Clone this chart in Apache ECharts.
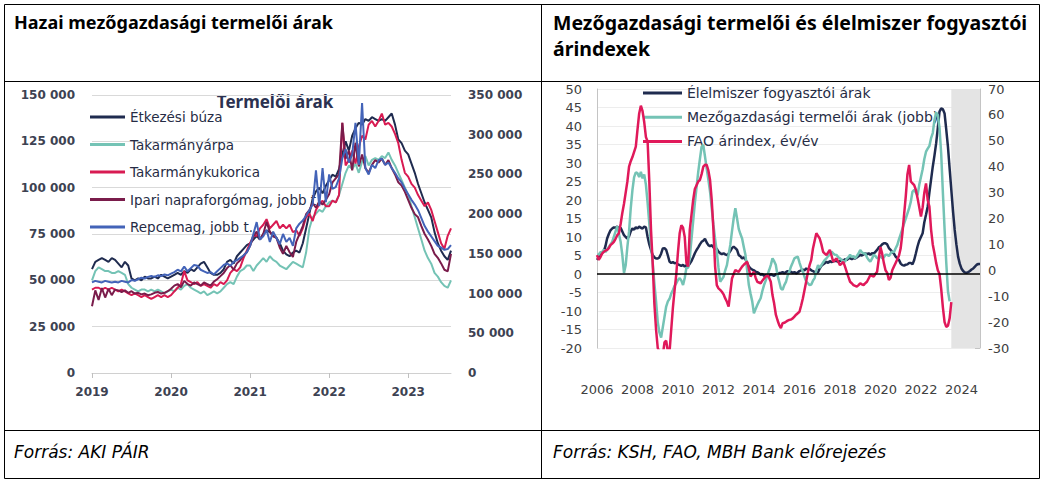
<!DOCTYPE html>
<html><head><meta charset="utf-8">
<script src="https://cdn.jsdelivr.net/npm/echarts@6/dist/echarts.min.js"></script>
<style>html,body{margin:0;padding:0;background:#fff}#c{width:1045px;height:484px}</style>
</head><body><div id="c"></div>
<script>
// ---------- LEFT CHART DATA (semi-monthly, thousand HUF/t) ----------
const leftYears = ['2019', '2020', '2021', '2022', '2023'];
const leftCount = 110; // Jan 2019 .. Jul 2023, two points per month
// Étkezési búza (left axis)
const wheat = [
  56,60,61,62,61,60,62,61,59,57,60,58,51,50,51,50,52,51,51,52,51,53,52,51,
  52,53,54,53,55,54,56,55,57,59,60,57,54,53,53,54,56,60,61,59,63,65,67,69,
  70,72,74,72,75,77,76,74,73,70,66,64,63,65,66,65,70,78,86,94,98,100,97,101,
  104,107,106,110,118,125,120,128,132,135,134,137,136,138,137,136,137,136,138,140,134,126,124,120,
  118,113,108,102,97,92,88,84,76,70,66,63,61,66
];
// Takarmányárpa (left axis)
const barley = [
  50,55,57,56,55,55,54,54,55,54,53,48,46,45,44,45,45,44,45,44,45,44,43,44,
  45,44,46,45,47,48,46,45,44,43,44,42,43,44,43,44,46,48,49,48,52,55,56,58,
  58,55,58,60,62,60,63,61,60,58,57,56,58,60,59,58,57,65,78,84,86,88,87,90,
  92,93,92,96,102,108,112,110,113,108,114,117,112,115,116,115,117,116,119,115,112,108,104,100,
  96,90,84,78,72,66,62,59,54,52,49,47,46,50
];
// Takarmánykukorica (left axis)
const maize = [
  45,46,46,45,46,45,46,45,44,45,44,43,42,43,42,41,42,41,40,41,42,41,42,41,
  42,44,46,48,55,50,49,48,49,47,48,47,46,48,47,49,48,50,54,56,55,57,62,66,
  70,74,74,78,80,83,78,80,82,78,80,78,80,76,77,74,78,84,86,82,88,91,93,90,
  90,93,92,96,135,112,115,120,113,122,128,126,134,136,133,136,140,134,135,133,129,124,115,108,
  106,102,100,96,93,90,92,88,82,76,70,67,74,78
];
// Ipari napraforgómag (right axis)
const sunflower = [
  84,104,92,107,95,106,98,105,104,102,104,101,103,100,101,99,100,98,99,101,102,100,101,103,
  106,110,112,108,116,112,110,114,112,110,114,112,110,115,118,122,126,132,136,130,138,142,148,152,
  160,172,178,168,175,190,178,172,170,158,150,160,152,146,165,175,185,200,205,214,208,216,212,218,
  225,240,245,250,315,270,280,255,290,260,275,258,252,262,268,265,270,262,268,258,250,240,236,228,
  218,208,200,196,185,175,168,160,150,145,138,130,128,150
];
// Repcemag (right axis)
const rapeseed = [
  114,116,115,114,116,115,114,115,114,116,115,114,117,116,118,120,119,121,122,121,123,122,124,123,
  125,127,130,128,134,128,132,136,135,130,128,126,127,124,128,132,136,138,135,140,142,145,148,152,
  160,175,190,168,172,180,165,178,170,162,175,165,170,160,182,188,192,198,205,212,255,210,258,215,
  250,232,234,245,270,282,265,275,315,262,340,258,250,262,258,268,270,262,265,258,252,245,240,232,
  225,218,212,205,195,185,178,172,166,160,158,155,156,161
];
const leftNames = ['Étkezési búza', 'Takarmányárpa', 'Takarmánykukorica', 'Ipari napraforgómag, jobb t.', 'Repcemag, jobb t.'];

// ---------- RIGHT CHART DATA (monthly, %) ----------
const rightFirstYear = 2006, rightLastYear = 2024;
// Élelmiszer fogyasztói árak (left axis)
const foodCPI = [
  3.8,4.5,5.2,5.8,6.1,7.5,9.6,10.8,11.8,12.3,12.6,12.5,
  12.8,12.4,12.5,11.5,10.5,10.0,9.6,10.2,11.5,12.3,12.0,12.6,
  12.3,12.8,12.5,12.3,12.8,12.6,10.0,8.0,6.5,5.1,4.5,4.2,
  4.2,4.5,5.5,6.9,7.0,6.5,5.0,3.3,3.0,3.2,2.9,3.0,
  2.6,2.4,2.2,2.5,2.0,2.4,2.2,2.8,3.5,4.5,5.6,6.5,
  7.2,8.0,8.7,9.0,9.5,8.5,7.8,7.5,7.8,7.2,6.9,6.8,
  6.0,5.6,5.4,5.6,5.3,5.1,5.5,6.2,7.0,7.4,7.0,6.5,
  5.1,4.8,4.2,4.5,4.0,3.0,2.0,1.5,1.2,1.0,0.6,0.5,
  0.2,-0.2,0.0,-0.5,-0.3,-0.7,-0.5,0.0,-0.3,-0.5,0.0,-0.2,
  0.3,0.3,0.5,0.2,0.5,0.8,0.5,0.6,0.3,0.5,0.2,0.4,
  0.8,1.0,1.2,1.0,1.5,1.2,1.4,1.0,0.8,0.5,0.3,0.5,
  1.5,2.2,2.6,2.9,3.3,3.0,3.5,3.2,3.4,3.6,3.5,3.3,
  3.5,3.8,3.6,4.0,3.8,4.2,4.3,4.0,4.3,4.2,4.5,4.8,
  5.2,5.0,5.3,5.6,5.4,5.6,5.2,5.6,5.5,6.0,6.5,7.2,
  7.5,8.0,8.3,8.3,8.0,7.0,6.5,6.0,5.5,4.7,4.2,3.8,
  2.8,2.4,2.3,2.5,2.6,3.0,3.0,2.6,3.8,5.6,7.5,9.0,
  10.0,11.0,14.0,16.0,18.2,22.0,25.5,29.0,32.0,35.3,39.5,43.9,
  44.8,44.5,43.4,39.0,34.4,28.5,22.7,17.0,11.9,8.0,4.7,2.8,
  1.5,0.8,0.4,0.3,0.5,0.8,1.2,1.5,2.0,2.5,2.7,2.7
];
// Mezőgazdasági termelői árak (right axis)
const agriPPI = [
  6,6,7,7,8,7,8,9,10,11,13,15,
  17,14,11,6,-1,2,9,15,24,31,36,37.8,
  37.5,36,38,35.5,37,33,26,18,10,3,-5,-12,
  -20,-24,-26,-22,-18,-14,-12,-11,-9,-7.6,-6,-5,
  -3.7,-3,-4,-5.7,-3,1,1,5,12,19,26,32,
  38,43,47.7,48.4,44,39.3,35,30.4,24,17.5,12,7.2,
  1,-4.4,-3.5,-2.5,0,2,6,9.8,15,20,24,20,
  16,14,12.3,9,5.9,0,-5.7,-9,-12,-16.6,-15,-13.4,
  -12,-10.8,-8,-5.7,-4,-1.8,0,2,4.6,3.5,2,-2,
  -4.4,-7,-7.5,-5.7,-4.5,-2,-0.5,1.5,3,4.6,5,5.3,
  3,1,-0.5,-2.5,-4.4,-5,-5.7,-5.5,-4,-3,0,2,
  1,2,3,4,4.6,5.5,6,7.2,6.5,6,5.9,5,
  4.6,4,3.5,3.3,4.5,5,6,5,5.5,4.6,5.5,6.5,
  7.8,7,6.5,6.5,5,4,3.3,4.5,6,5.5,4.6,5.0,
  5.5,4.6,5,6,6,5.5,6.5,7.2,7,8.5,9.8,12,
  14,16,18,20,22,24,26.5,30.4,31,30,29,33,
  36,39,43,45.8,47,48,51,53,58,61,60,55,
  45,30,16,3,-8,-12
];
// FAO árindex, év/év (left axis)
const faoIndex = [
  5.1,3.8,4.5,5.5,6.0,6.3,6.5,7.0,7.8,8.2,8.7,9.5,
  10.5,11,13.5,16.5,19,22,25,29,30.5,31.6,33,34.4,
  39,43.4,45.5,44,41,37,35.8,25,12,3,-8,-15,
  -20,-21,-21,-22,-18.5,-18,-21,-21,-15,-9,-4.3,0,
  6,11,13.2,12.5,10,3,2,12,16,20,23,24,
  25,25.4,27,29,29.5,29.5,28,25.4,20,12,2,-3,
  -3.9,-4.3,-4.8,-5.5,-6.6,-7.5,-8.8,-5,-1.2,0,1.1,0.8,
  0.6,1.3,2,2.5,2.9,3.3,1.5,-0.7,0,0.6,-1,-2.1,
  -2.3,-2.5,-1.8,-1.2,-0.7,-0.3,-1,-2.1,-5.7,-8,-11,-12.5,
  -13.8,-14.6,-13.3,-13.2,-12.9,-12.6,-12.4,-12.3,-12,-11.5,-11,-10.6,
  -10.2,-8.5,-6.6,-4.3,-2,0.5,2.4,3.8,6.9,9,11,10.3,
  9.6,8,6,5.5,5.1,5.8,6.5,5,3.3,3.8,4.2,3.3,
  2.4,2.8,3.3,2,0.6,-0.8,-2.1,-2.5,-3,-3.2,-3.4,-3,
  -2.5,-2.8,-3,-2.5,-2.1,-1.2,-0.3,-0.5,-0.7,0,0.6,4,
  7.3,5.5,3,1,0.3,-1.6,-1,1,2,3,4,5,
  7,11,16,21,27,29.5,25,24.5,24,22.7,20.5,18,
  15.5,18,22,24.5,20,18.2,12,8,5.6,3,1,0,
  -4,-9,-13,-14.3,-14,-12,-7.6
];
const rightNames = ['Élelmiszer fogyasztói árak', 'Mezőgazdasági termelői árak (jobb)', 'FAO árindex, év/év'];
const forecastStart = '2023-07';

// ---------- categories ----------
const leftCats = [];
leftYears.forEach(y => { for (let m = 1; m <= 12; m++) { for (let h = 1; h <= 2; h++) { leftCats.push(y + '-' + String(m).padStart(2, '0') + '-' + h); } } });
leftCats.length = leftCount;
const rightCats = [];
for (let y = rightFirstYear; y <= rightLastYear; y++) { for (let m = 1; m <= 12; m++) rightCats.push(y + '-' + String(m).padStart(2, '0')); }

// ---------- styling ----------
const C = { navy: '#1f2b4f', teal: '#74c3b5', crimson: '#d81b52', maroon: '#7a1c4b', blue: '#4363b8', fao: '#e0195a' };
const F = 'DejaVu Sans';
const thou = v => v === 0 ? '0' : v + ' 000';
const yearTick = i => i % 24 === 0;

const chart = echarts.init(document.getElementById('c'), null, { renderer: 'svg' });
const ln = (name, data, x, y, color, w) => ({ name, type: 'line', data, xAxisIndex: x, yAxisIndex: y, symbol: 'none', showSymbol: false,
  lineStyle: { width: w, color }, itemStyle: { color }, emphasis: { disabled: true }, z: 2 });

const option = {
  animation: false,
  backgroundColor: '#ffffff',
  textStyle: { fontFamily: F },
  grid: [
    { left: 92, top: 95, width: 359, height: 278 },
    { left: 597, top: 89, width: 383, height: 259 }
  ],
  xAxis: [
    { gridIndex: 0, type: 'category', data: leftCats, boundaryGap: false,
      axisLine: { onZero: false, lineStyle: { color: '#d0d0d0' } },
      axisTick: { interval: yearTick, length: 5, lineStyle: { color: '#c0c0c0' } },
      axisLabel: { interval: yearTick, formatter: v => v.slice(0, 4), fontFamily: F, fontWeight: 'bold', fontSize: 12, color: '#3d4252', margin: 13 },
      splitLine: { show: false } },
    { gridIndex: 1, type: 'category', data: rightCats, boundaryGap: false,
      axisLine: { show: false, onZero: false }, axisTick: { show: false },
      axisLabel: { interval: yearTick, formatter: v => v.slice(0, 4), fontFamily: F, fontSize: 13, color: '#404040', margin: 35 },
      splitLine: { show: false } }
  ],
  yAxis: [
    { gridIndex: 0, type: 'value', min: 0, max: 150, interval: 25, position: 'left',
      axisLine: { show: false }, axisTick: { show: false },
      splitLine: { lineStyle: { color: '#d9d9d9' } },
      axisLabel: { formatter: thou, fontFamily: F, fontWeight: 'bold', fontSize: 12, color: '#3d4252', margin: 17 } },
    { gridIndex: 0, type: 'value', min: 0, max: 350, interval: 50, position: 'right',
      axisLine: { show: false }, axisTick: { show: false }, splitLine: { show: false },
      axisLabel: { formatter: thou, fontFamily: F, fontWeight: 'bold', fontSize: 12, color: '#3d4252', margin: 17 } },
    { gridIndex: 1, type: 'value', min: -20, max: 50, interval: 5, position: 'left',
      axisLine: { show: true, lineStyle: { color: '#c4c4c4' } }, axisTick: { show: false },
      splitLine: { lineStyle: { color: '#ededed' } },
      axisLabel: { fontFamily: F, fontSize: 13, color: '#404040', margin: 15 } },
    { gridIndex: 1, type: 'value', min: -30, max: 70, interval: 10, position: 'right',
      axisLine: { show: true, lineStyle: { color: '#c4c4c4' } },
      axisTick: { show: true, inside: true, length: 5, lineStyle: { color: '#c4c4c4' } },
      splitLine: { show: false },
      axisLabel: { fontFamily: F, fontSize: 13, color: '#404040', margin: 8 } }
  ],
  legend: [
    { data: leftNames, orient: 'vertical', left: 90, top: 109, padding: 0, itemWidth: 35, itemHeight: 3, icon: 'rect',
      itemGap: 11.5, z: 1, selectedMode: false,
      textStyle: { fontFamily: F, fontSize: 13.5, color: '#262c45', lineHeight: 16 } },
    { data: rightNames, orient: 'vertical', left: 643, top: 85, padding: 0, itemWidth: 39, itemHeight: 3, icon: 'rect',
      itemGap: 8.2, z: 1, selectedMode: false,
      textStyle: { fontFamily: F, fontSize: 14, color: '#262c45', lineHeight: 16 } }
  ],
  series: [
    { type: 'line', data: [], xAxisIndex: 1, yAxisIndex: 2, z: 1, silent: true,
      markArea: { silent: true, itemStyle: { color: '#e4e4e4' }, data: [[{ xAxis: forecastStart }, { xAxis: rightCats[rightCats.length - 1] }]] } },
    ln(leftNames[0], wheat, 0, 0, C.navy, 2),
    ln(leftNames[1], barley, 0, 0, C.teal, 2),
    ln(leftNames[2], maize, 0, 0, C.crimson, 2),
    ln(leftNames[3], sunflower, 0, 1, C.maroon, 2),
    ln(leftNames[4], rapeseed, 0, 1, C.blue, 2),
    Object.assign(ln(rightNames[0], foodCPI, 1, 2, C.navy, 2.5), {
      markLine: { silent: true, symbol: 'none', label: { show: false }, lineStyle: { color: '#000', width: 1.5, type: 'solid' }, data: [{ yAxis: 0 }] } }),
    ln(rightNames[1], agriPPI, 1, 3, C.teal, 2.5),
    ln(rightNames[2], faoIndex, 1, 2, C.fao, 2.5)
  ],
  graphic: [
    { type: 'rect', shape: { x: 4.5, y: 4.5, width: 1035, height: 474 }, style: { fill: 'none', stroke: '#000', lineWidth: 1 }, silent: true },
    { type: 'line', shape: { x1: 4.5, y1: 81.5, x2: 1039.5, y2: 81.5 }, style: { stroke: '#000', lineWidth: 1 }, silent: true },
    { type: 'line', shape: { x1: 4.5, y1: 430.5, x2: 1039.5, y2: 430.5 }, style: { stroke: '#000', lineWidth: 1 }, silent: true },
    { type: 'line', shape: { x1: 541.5, y1: 4.5, x2: 541.5, y2: 478.5 }, style: { stroke: '#000', lineWidth: 1 }, silent: true },
    { type: 'text', x: 14, y: 22, style: { text: 'Hazai mezőgazdasági termelői árak', font: 'bold 18px "Noto Sans"', fill: '#000', verticalAlign: 'middle' } },
    { type: 'text', x: 553, y: 22, style: { text: 'Mezőgazdasági termelői és élelmiszer fogyasztói', font: 'bold 19.5px "Noto Sans"', fill: '#000', verticalAlign: 'middle' } },
    { type: 'text', x: 553, y: 48, style: { text: 'árindexek', font: 'bold 19.5px "Noto Sans"', fill: '#000', verticalAlign: 'middle' } },
    { type: 'text', x: 275, y: 101, style: { text: 'Termelői árak', font: 'bold 17px "Noto Sans"', fill: '#2b3150', align: 'center', verticalAlign: 'middle' } },
    { type: 'text', x: 14, y: 452, style: { text: 'Forrás: AKI PÁIR', font: 'italic 17px "DejaVu Sans"', fill: '#000', verticalAlign: 'middle' } },
    { type: 'text', x: 553, y: 452, style: { text: 'Forrás: KSH, FAO, MBH Bank előrejezés', font: 'italic 17px "DejaVu Sans"', fill: '#000', verticalAlign: 'middle' } }
  ]
};
chart.setOption(option);
</script>
</body></html>
